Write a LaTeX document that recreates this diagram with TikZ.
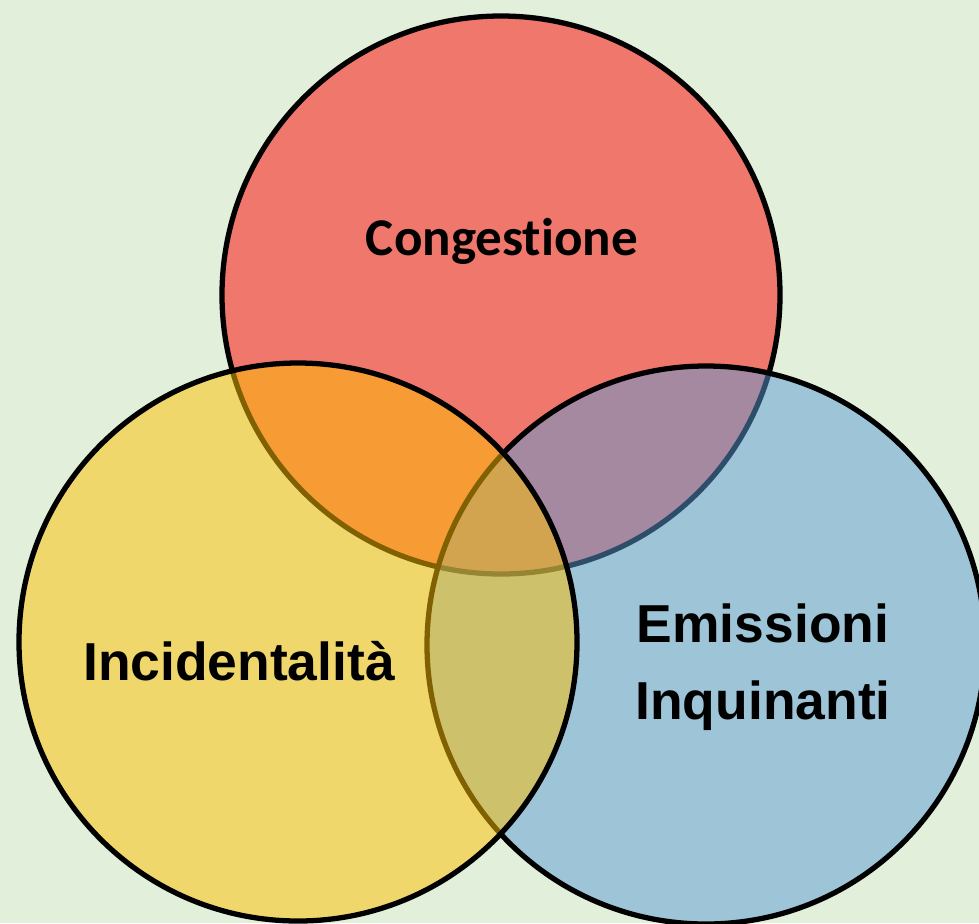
\documentclass[tikz,border=0pt]{standalone}
\usepackage{fontspec}
\setmainfont{Liberation Sans}
\newfontfamily\calibfont[Ligatures=NoCommon]{Carlito}
\usetikzlibrary{positioning}
\definecolor{bggreen}{HTML}{E2EFDA}
\definecolor{setred}{HTML}{FF0000}
\definecolor{setgold}{HTML}{FFC000}
\definecolor{setblue}{HTML}{5B9BD5}
\tikzset{
  ring/.style={circle, draw=black, line width=1.5pt, fill opacity=0.5, minimum size=5.58cm, inner sep=0pt},
  word/.style={text=black, font=\bfseries\fontsize{15.2}{21.8}\selectfont, align=center, inner sep=0pt}
}

\begin{document}
\begin{tikzpicture}
  \fill[bggreen] (0,0) rectangle (9.79,-9.23);
  \useasboundingbox (0,0) rectangle (9.79,-9.23);

  \node[ring, fill=setred] (cong) at (5.01,-2.95) {};
  \node[ring, fill=setblue] (emis) at (7.06,-6.45) {};
  \node[ring, fill=setgold] (inci) at (2.98,-6.42) {};

  \node[word, font=\calibfont\bfseries\fontsize{15.1}{18}\selectfont, anchor=base] (congtxt) at (5.02,-2.55) {Congestione};
  \node[word, anchor=base] (incitxt) at (2.39,-6.80) {Incidentalità};
  \node[word, anchor=base] (emistxt) at (7.63,-7.19) {Emissioni\\Inquinanti};
\end{tikzpicture}
\end{document}
